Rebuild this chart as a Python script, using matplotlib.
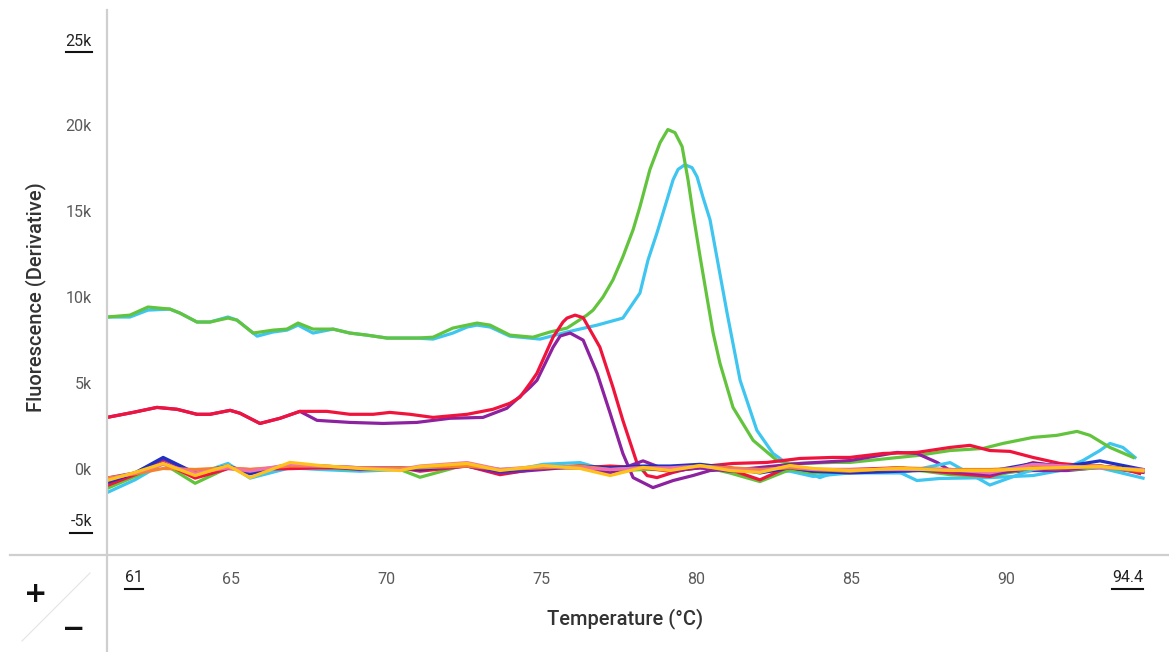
import matplotlib.pyplot as plt
from matplotlib.lines import Line2D
from matplotlib.transforms import IdentityTransform

plt.rcParams['font.family'] = ['Roboto', 'DejaVu Sans']

W, H = 1169, 652

# ---- data (temperature in degC, fluorescence derivative in thousands) ----
green_t = [61.00, 61.74, 62.32, 63.03, 63.35, 63.90, 64.32, 64.90, 65.19, 65.71, 66.35, 66.80,
           67.16, 67.64, 68.29, 68.83, 69.38, 70.03, 70.99, 71.51, 72.15, 72.93, 73.35, 73.99,
           74.73, 75.28, 75.83, 76.47, 76.67, 76.99, 77.31, 77.63, 77.96, 78.18, 78.50, 78.83,
           79.08, 79.31, 79.54, 79.73, 79.89, 80.12, 80.34, 80.54, 80.76, 81.18, 81.83, 82.60,
           83.02, 83.34, 84.40, 84.95, 87.11, 88.18, 89.24, 89.88, 90.85, 91.62, 92.27, 92.69,
           93.33, 94.08]
green_v = [8.84, 8.95, 9.42, 9.30, 9.07, 8.55, 8.55, 8.78, 8.66, 7.91, 8.08, 8.14,
           8.49, 8.14, 8.14, 7.91, 7.79, 7.62, 7.62, 7.67, 8.20, 8.49, 8.37, 7.79,
           7.67, 7.97, 8.20, 8.95, 9.24, 10.00, 10.99, 12.33, 13.90, 15.23, 17.38, 18.95,
           19.71, 19.53, 18.72, 16.80, 14.88, 12.33, 10.00, 7.91, 6.16, 3.60, 1.69, 0.52,
           0.35, 0.35, 0.41, 0.41, 0.81, 1.10, 1.22, 1.51, 1.86, 1.98, 2.21, 1.98,
           1.28, 0.70]

cyan_t = [61.00, 61.74, 62.32, 63.03, 63.35, 63.90, 64.32, 64.90, 65.19, 65.84, 66.35, 66.80,
          67.16, 67.64, 68.29, 68.83, 69.38, 70.03, 70.99, 71.51, 72.15, 72.61, 72.93, 73.35,
          73.99, 74.96, 75.83, 76.80, 77.63, 78.18, 78.44, 78.73, 79.25, 79.41, 79.63, 79.86,
          80.02, 80.21, 80.44, 80.99, 81.41, 81.95, 82.47, 82.92, 83.66, 83.98, 84.63, 85.50,
          86.56, 87.11, 87.85, 89.46, 90.85, 91.72, 92.46, 93.01, 93.33, 93.75, 94.14]
cyan_v = [8.84, 8.84, 9.24, 9.30, 9.07, 8.55, 8.55, 8.84, 8.66, 7.73, 7.97, 8.08,
          8.37, 7.91, 8.14, 7.91, 7.79, 7.62, 7.62, 7.56, 7.91, 8.26, 8.37, 8.26,
          7.73, 7.56, 7.97, 8.37, 8.78, 10.23, 12.14, 13.72, 16.80, 17.40, 17.67, 17.50,
          16.98, 15.80, 14.48, 9.07, 5.17, 2.27, 0.93, 0.35, -0.23, -0.47, -0.06, -0.10,
          -0.17, -0.64, -0.52, -0.47, -0.35, -0.06, 0.52, 1.10, 1.51, 1.28, 0.70]

red_t = [61.00, 61.84, 62.61, 63.26, 63.90, 64.32, 64.97, 65.29, 65.93, 66.58, 67.22, 68.09,
         68.83, 69.58, 70.12, 70.77, 71.51, 72.61, 73.44, 73.99, 74.31, 74.64, 74.86, 75.38,
         75.70, 75.83, 76.09, 76.35, 76.89, 77.31, 77.63, 77.86, 78.09, 78.41, 78.73, 79.25,
         79.89, 81.18, 82.28, 83.34, 84.40, 84.95, 86.02, 87.11, 88.18, 88.82, 89.46, 90.11,
         90.85, 91.72, 92.46, 93.56, 94.29]
red_v = [3.02, 3.31, 3.60, 3.49, 3.20, 3.20, 3.43, 3.26, 2.67, 2.97, 3.37, 3.37,
         3.20, 3.20, 3.31, 3.20, 3.02, 3.20, 3.49, 3.84, 4.19, 5.00, 5.58, 7.67,
         8.55, 8.78, 8.95, 8.80, 7.09, 4.77, 2.85, 1.60, 0.35, -0.35, -0.47, -0.17,
         0.12, 0.35, 0.41, 0.64, 0.70, 0.70, 0.93, 0.99, 1.28, 1.40, 1.10, 1.05,
         0.70, 0.35, 0.23, 0.12, -0.23]

purple_t = [61.00, 61.84, 62.61, 63.26, 63.90, 64.32, 64.97, 65.29, 65.93, 66.58, 67.22, 67.77,
            68.83, 69.90, 70.99, 72.06, 73.12, 73.89, 74.64, 74.86, 75.38, 75.61, 75.93, 76.35,
            76.80, 77.22, 77.63, 77.96, 78.60, 79.25, 79.89, 80.44, 81.73, 83.34, 84.95, 86.47,
            87.11, 87.76, 88.18, 89.24, 90.85, 91.95, 93.01, 94.40]
purple_v = [3.02, 3.31, 3.60, 3.49, 3.20, 3.20, 3.43, 3.26, 2.67, 2.97, 3.37, 2.85,
            2.73, 2.67, 2.73, 2.97, 3.02, 3.55, 4.77, 5.17, 7.09, 7.74, 7.91, 7.50,
            5.58, 3.26, 0.93, -0.47, -1.05, -0.64, -0.35, -0.06, 0.06, 0.35, 0.52, 0.99,
            0.93, 0.41, -0.06, -0.23, -0.06, -0.06, 0.12, -0.17]

# negative / no-melt wells share one temperature grid
base_t = [61.00, 61.90, 62.81, 63.84, 64.90, 65.61, 66.90, 67.87, 69.16, 70.45, 71.09, 72.61,
          73.67, 75.06, 76.25, 77.22, 78.28, 79.15, 80.12, 81.08, 82.05, 83.02, 83.76, 84.95,
          86.56, 88.18, 89.46, 90.85, 91.95, 93.01, 94.40]
cyan_b = [-1.34, -0.60, 0.35, -0.30, 0.35, -0.50, 0.10, 0.00, -0.10, 0.00, 0.10, 0.20,
          -0.20, 0.30, 0.40, -0.10, 0.10, 0.00, 0.10, 0.00, -0.10, -0.10, -0.40, -0.20,
          -0.20, 0.40, -0.90, 0.00, 0.20, 0.10, -0.50]
green_b = [-1.10, -0.40, 0.35, -0.80, 0.10, -0.10, 0.20, 0.10, 0.00, 0.00, -0.45, 0.30,
           0.00, 0.10, 0.10, -0.10, 0.00, 0.00, 0.20, -0.20, -0.70, 0.00, -0.20, -0.10,
           0.10, -0.30, -0.40, 0.10, 0.00, 0.10, -0.10]
red_b = [-0.93, -0.30, 0.40, -0.50, 0.05, 0.00, 0.05, 0.10, 0.10, 0.10, -0.10, 0.20,
         -0.30, 0.10, 0.10, 0.20, 0.10, -0.10, 0.10, 0.00, -0.60, 0.20, 0.00, 0.00,
         0.10, -0.20, -0.40, 0.40, 0.10, 0.20, -0.10]
purple_b = [-0.50, -0.20, 0.60, -0.20, 0.20, -0.20, 0.30, 0.20, 0.00, 0.10, 0.00, 0.20,
            -0.20, 0.00, 0.20, -0.20, 0.50, -0.10, 0.10, -0.10, 0.00, 0.10, -0.10, -0.10,
            0.00, -0.10, -0.30, 0.10, 0.00, 0.20, -0.10]
blue_b = [-0.76, -0.20, 0.70, -0.20, 0.20, -0.25, 0.30, 0.20, 0.10, 0.10, 0.00, 0.30,
          -0.10, 0.10, 0.20, 0.10, 0.20, 0.20, 0.30, 0.10, -0.20, 0.10, -0.10, -0.20,
          -0.10, 0.00, -0.10, 0.35, 0.20, 0.50, 0.00]
orange_b = [-0.50, -0.25, 0.06, 0.00, 0.10, 0.00, 0.20, 0.20, 0.10, 0.10, 0.10, 0.20,
            0.00, 0.10, 0.20, 0.00, 0.10, 0.00, 0.20, 0.10, 0.00, 0.10, 0.00, -0.10,
            0.10, 0.00, 0.00, 0.10, 0.10, 0.20, -0.10]
pink_b = [-0.60, -0.20, 0.30, -0.20, 0.10, -0.10, 0.30, 0.20, 0.10, 0.00, 0.20, 0.40,
          0.00, 0.20, 0.10, 0.00, 0.10, 0.10, 0.20, 0.00, -0.10, 0.20, 0.00, 0.00,
          0.00, 0.00, -0.20, 0.30, 0.20, 0.10, 0.00]
yellow_b = [-0.64, -0.17, 0.35, -0.35, 0.23, -0.47, 0.41, 0.23, 0.06, -0.06, 0.17, 0.35,
            -0.06, 0.23, 0.06, -0.35, 0.12, -0.06, 0.23, -0.06, -0.17, 0.23, 0.06, -0.06,
            0.06, -0.06, -0.06, 0.06, 0.12, 0.17, -0.06]

y_ticks = [0, 5, 10, 15, 20]
x_ticks = [65, 70, 75, 80, 85, 90]

GREEN, CYAN, RED, PURPLE = '#62c43c', '#3ec5f0', '#f0143c', '#8c22a0'
BLUE, ORANGE, PINK, YELLOW = '#2030c0', '#f5822a', '#f270b0', '#ffc21a'


def fx(x):
    return x / W


def fy(y):
    return 1 - y / H


fig = plt.figure(figsize=(W / 100, H / 100), dpi=100)
ax = fig.add_axes([fx(107), fy(555), fx(1169) - fx(107), fy(10) - fy(555)])
ax.set_xlim(61.0, 95.236)
ax.set_ylim(-4.957, 26.64)
for s in ax.spines.values():
    s.set_visible(False)

lw = 2.3
ax.plot(cyan_t, cyan_v, color=CYAN, lw=lw, solid_joinstyle='round')
ax.plot(green_t, green_v, color=GREEN, lw=lw, solid_joinstyle='round')
ax.plot(purple_t, purple_v, color=PURPLE, lw=lw, solid_joinstyle='round')
ax.plot(red_t, red_v, color=RED, lw=lw, solid_joinstyle='round')
for vals, c in [(cyan_b, CYAN), (green_b, GREEN), (red_b, RED), (purple_b, PURPLE),
                (blue_b, BLUE), (orange_b, ORANGE), (pink_b, PINK), (yellow_b, YELLOW)]:
    ax.plot(base_t, vals, color=c, lw=lw, solid_joinstyle='round')

ax.set_yticks(y_ticks)
ax.set_yticklabels([f'{v}k' for v in y_ticks])
ax.set_xticks(x_ticks)
ax.set_xticklabels([str(v) for v in x_ticks])
ax.tick_params(axis='both', length=0, labelsize=11.5, labelcolor='#5a5a5a')
ax.tick_params(axis='y', pad=11)
ax.tick_params(axis='x', pad=12)

# frame lines
grey = '#cfcfcf'
fig.add_artist(Line2D([fx(107), fx(107)], [fy(10), fy(652)], color=grey, lw=1.6))
fig.add_artist(Line2D([fx(10), fx(1169)], [fy(555), fy(555)], color=grey, lw=1.6))
fig.add_artist(Line2D([fx(22), fx(90)], [fy(641), fy(573)], color='#e6e6e6', lw=0.9))

# end labels (underlined)
ends = [
    fig.text(fx(92), fy(41), '25k', ha='right', va='center', fontsize=11.5, color='#222222'),
    fig.text(fx(92), fy(522), '-5k', ha='right', va='center', fontsize=11.5, color='#222222'),
    fig.text(fx(125), fy(578), '61', ha='left', va='center', fontsize=11.5, color='#222222'),
    fig.text(fx(1143), fy(578), '94.4', ha='right', va='center', fontsize=11.5, color='#222222'),
]

fig.text(fx(36), fy(297), 'Fluorescence (Derivative)', rotation=90, ha='center', va='center',
         fontsize=14.5, fontweight='medium', color='#333333')
fig.text(fx(625), fy(619), 'Temperature (°C)', ha='center', va='center',
         fontsize=14.5, fontweight='medium', color='#333333')
fig.text(fx(36), fy(594), '+', ha='center', va='center', fontsize=20, fontweight='bold',
         color='#111111', family='DejaVu Sans')
fig.text(fx(74), fy(629), '\u2212', ha='center', va='center', fontsize=20, fontweight='bold',
         color='#111111', family='DejaVu Sans')

fig.canvas.draw()
r = fig.canvas.get_renderer()
for t in ends:
    bb = t.get_window_extent(r)
    fig.add_artist(Line2D([bb.x0, bb.x1], [bb.y0 - 3, bb.y0 - 3], color='#111111', lw=1.5,
                          transform=IdentityTransform()))

fig.savefig('out.png', dpi=100, facecolor='white')
